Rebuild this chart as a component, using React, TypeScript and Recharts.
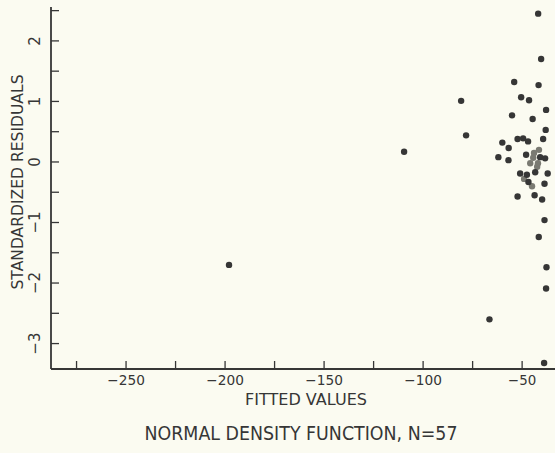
import { ScatterChart, Scatter, XAxis, YAxis, Label } from "recharts";

// fitted value / standardized residual pairs
const FITTED = [
  -41.9, -40.4, -54.0, -41.7, -50.5, -46.5, -37.9, -55.1, -44.7, -38.1,
  -39.4, -60.0, -52.3, -49.5, -47.0, -56.8, -62.0, -56.9, -48.0, -40.9,
  -38.4, -51.0, -47.6, -43.4, -37.1, -46.8, -38.7, -52.3, -43.7, -39.9,
  -38.7, -41.6, -37.7, -37.9, -66.5, -78.3, -80.8, -109.6, -198.0, -38.9,
];
const RESID = [
  2.45, 1.7, 1.32, 1.27, 1.07, 1.02, 0.86, 0.77, 0.71, 0.53,
  0.38, 0.32, 0.38, 0.39, 0.34, 0.23, 0.08, 0.03, 0.12, 0.08,
  0.06, -0.19, -0.21, -0.17, -0.19, -0.33, -0.36, -0.57, -0.55, -0.62,
  -0.96, -1.24, -1.74, -2.09, -2.6, 0.44, 1.01, 0.17, -1.7, -3.32,
];
// smudged marks in the dense cluster
const FAINT_FITTED = [-44.4, -45.9, -42.4, -44.0, -42.0, -49.0, -45.0, -41.5];
const FAINT_RESID = [0.07, -0.02, -0.08, 0.15, -0.02, -0.28, -0.4, 0.2];

const X_TICKS = [-275, -250, -225, -200, -175, -150, -125, -100, -75, -50];
const X_LABELS = [-250, -200, -150, -100, -50];
const Y_TICKS = [-3, -2.5, -2, -1.5, -1, -0.5, 0, 0.5, 1, 1.5, 2, 2.5];
const Y_LABELS = [-3, -2, -1, 0, 1, 2];

const INK = "#363636";
const FONT = "'DejaVu Sans', sans-serif";

const points = FITTED.map((x, i) => ({ x, y: RESID[i] }));
const faint = FAINT_FITTED.map((x, i) => ({ x, y: FAINT_RESID[i] }));

const fmt = (v: number) => (v < 0 ? "\u2212" + Math.abs(v) : String(v));

function XTick({ x, y, payload }: any) {
  const v = payload.value;
  const s = fmt(v);
  return (
    <g>
      <line x1={x} x2={x} y1={y} y2={y - 8} stroke={INK} strokeWidth={1.3} />
      {X_LABELS.includes(v) && (
        <text
          x={x}
          y={y + 16}
          textAnchor="middle"
          fontSize={14}
          fill={INK}
          fontFamily={FONT}
          textLength={s.length * 9.4}
          lengthAdjust="spacingAndGlyphs"
        >
          {s}
        </text>
      )}
    </g>
  );
}

function YTick({ x, y, payload }: any) {
  const v = payload.value;
  return (
    <g>
      <line x1={x} x2={x + 8} y1={y} y2={y} stroke={INK} strokeWidth={1.3} />
      {Y_LABELS.includes(v) && (
        <text
          transform={`translate(${x - 16},${y}) rotate(-90)`}
          textAnchor="middle"
          dominantBaseline="central"
          fontSize={15}
          fill={INK}
          fontFamily={FONT}
        >
          {fmt(v)}
        </text>
      )}
    </g>
  );
}

const Dot = (fill: string) => (p: any) => <circle cx={p.cx} cy={p.cy} r={3.2} fill={fill} />;

export default function App() {
  return (
    <div style={{ position: "absolute", left: 0, top: 0, width: 555, height: 453, background: "#fbfbf1" }}>
      <ScatterChart width={555} height={453} margin={{ top: 7, right: 0, bottom: 0, left: 0 }}>
        <XAxis
          type="number"
          dataKey="x"
          domain={[-287.9, -33.4]}
          allowDataOverflow
          ticks={X_TICKS}
          interval={0}
          height={84}
          tickSize={0}
          tickMargin={0}
          tick={<XTick />}
          stroke={INK}
          strokeWidth={1.8}
        >
          <Label
            content={(props: any) => {
              const vb = props.viewBox;
              const cx = vb.x + vb.width / 2;
              return (
                <g fill={INK} fontFamily={FONT}>
                  <text x={cx + 3} y={vb.y + 36} textAnchor="middle" fontSize={15} textLength={122} lengthAdjust="spacingAndGlyphs">
                    FITTED VALUES
                  </text>
                  <text x={cx - 2} y={vb.y + 71} textAnchor="middle" fontSize={19} textLength={313} lengthAdjust="spacingAndGlyphs">
                    NORMAL DENSITY FUNCTION, N=57
                  </text>
                </g>
              );
            }}
          />
        </XAxis>
        <YAxis
          type="number"
          dataKey="y"
          domain={[-3.42, 2.56]}
          allowDataOverflow
          ticks={Y_TICKS}
          interval={0}
          width={51}
          tickSize={0}
          tickMargin={0}
          tick={<YTick />}
          stroke={INK}
          strokeWidth={1.8}
        >
          <Label
            content={(props: any) => {
              const vb = props.viewBox;
              return (
                <text
                  transform={`translate(${vb.x + 17},${vb.y + 175}) rotate(-90)`}
                  textAnchor="middle"
                  dominantBaseline="central"
                  fontSize={16}
                  fill={INK}
                  fontFamily={FONT}
                  textLength={215}
                  lengthAdjust="spacingAndGlyphs"
                >
                  STANDARDIZED RESIDUALS
                </text>
              );
            }}
          />
        </YAxis>
        <Scatter data={faint} shape={Dot("#7a7a72")} isAnimationActive={false} />
        <Scatter data={points} shape={Dot(INK)} isAnimationActive={false} />
      </ScatterChart>
    </div>
  );
}
